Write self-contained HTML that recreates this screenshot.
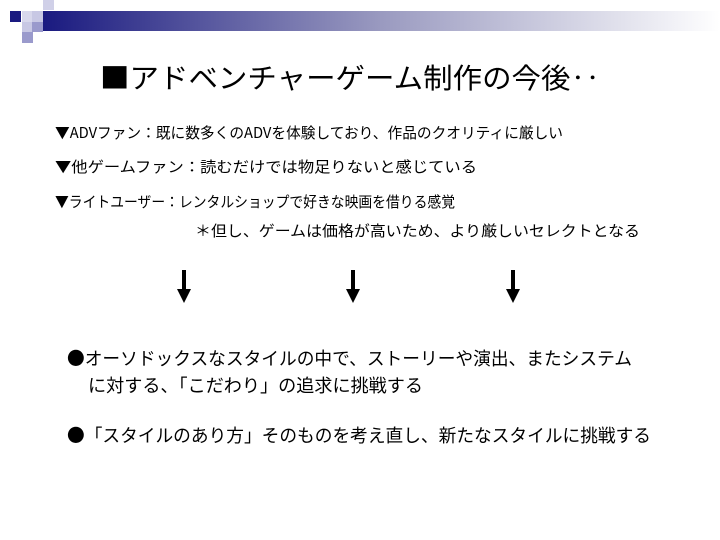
<!DOCTYPE html>
<html><head><meta charset="utf-8"><style>
html,body{margin:0;padding:0;background:#fff;}
svg{display:block;}
text{font-family:"Noto Sans CJK JP","Liberation Sans",sans-serif;fill:#000;}
</style></head><body>
<svg width="720" height="540" viewBox="0 0 720 540" xmlns="http://www.w3.org/2000/svg">
<defs><linearGradient id="g" x1="0" x2="1"><stop offset="0" stop-color="#1a1a80"/><stop offset="0.5" stop-color="#9a9ac0"/><stop offset="1" stop-color="#ffffff"/></linearGradient></defs>
<rect x="43" y="11" width="677" height="20" fill="url(#g)"/>
<rect x="10" y="11" width="11" height="11" fill="#1a1a80"/>
<rect x="22" y="11" width="11" height="11" fill="#d8d8ec"/>
<rect x="43" y="0" width="11" height="10" fill="#d0d0e8"/>
<rect x="32" y="11" width="11" height="11" fill="#c8c8e4"/>
<rect x="22" y="22" width="11" height="10" fill="#c8c8e4"/>
<rect x="32" y="22" width="11" height="10" fill="#9a9acc"/>
<rect x="22" y="32" width="11" height="11" fill="#9a9acc"/>
<text x="100" y="88" font-size="28" textLength="500" lengthAdjust="spacingAndGlyphs">■アドベンチャーゲーム制作の今後‥</text>
<text x="55" y="138" font-size="15" textLength="508" lengthAdjust="spacingAndGlyphs">▼ADVファン：既に数多くのADVを体験しており、作品のクオリティに厳しい</text>
<text x="55" y="172" font-size="15" textLength="422" lengthAdjust="spacingAndGlyphs">▼他ゲームファン：読むだけでは物足りないと感じている</text>
<text x="55" y="207" font-size="15" textLength="400" lengthAdjust="spacingAndGlyphs">▼ライトユーザー：レンタルショップで好きな映画を借りる感覚</text>
<text x="195" y="236" font-size="15" textLength="445" lengthAdjust="spacingAndGlyphs">＊但し、ゲームは価格が高いため、より厳しいセレクトとなる</text>
<g fill="#000">
<rect x="182" y="270" width="4" height="20"/><polygon points="177,289 191,289 184,303"/>
<rect x="351" y="270" width="4" height="20"/><polygon points="346,289 360,289 353,303"/>
<rect x="511" y="270" width="4" height="20"/><polygon points="506,289 520,289 513,303"/>
</g>
<text x="67" y="365" font-size="18" textLength="565" lengthAdjust="spacingAndGlyphs">●オーソドックスなスタイルの中で、ストーリーや演出、またシステム</text>
<text x="88" y="392" font-size="18" textLength="335" lengthAdjust="spacingAndGlyphs">に対する、「こだわり」の追求に挑戦する</text>
<text x="67" y="442" font-size="18" textLength="584" lengthAdjust="spacingAndGlyphs">●「スタイルのあり方」そのものを考え直し、新たなスタイルに挑戦する</text>
</svg>
</body></html>
